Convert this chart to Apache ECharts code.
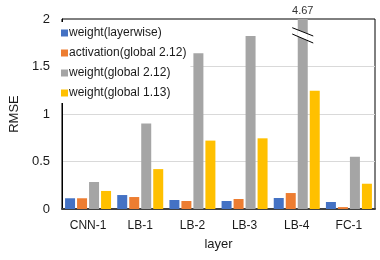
<!DOCTYPE html>
<html>
<head>
<meta charset="utf-8">
<script src="https://cdn.jsdelivr.net/npm/echarts@6/dist/echarts.min.js"></script>
<style>html,body{margin:0;padding:0;background:#fff;}#c{width:380px;height:260px;}</style>
</head>
<body>
<div id="c"></div>
<script>
const categories = ['CNN-1', 'LB-1', 'LB-2', 'LB-3', 'LB-4', 'FC-1'];
const weightLayerwise = [0.113, 0.147, 0.095, 0.084, 0.116, 0.074];
const activationGlobal212 = [0.113, 0.126, 0.084, 0.105, 0.168, 0.02];
const weightGlobal212 = [0.284, 0.90, 1.64, 1.82, 4.67, 0.55];
const weightGlobal113 = [0.19, 0.42, 0.72, 0.744, 1.245, 0.266];
const seriesNames = ['weight(layerwise)', 'activation(global 2.12)', 'weight(global 2.12)', 'weight(global 1.13)'];
const yTicks = [0, 0.5, 1, 1.5, 2];
const yMax = yTicks[yTicks.length - 1];

const colors = ['#4472C4', '#ED7D31', '#A5A5A5', '#FFC000'];
const FONT = 'Liberation Sans, Arial, sans-serif';
const TXT = '#1a1a1a';

const chart = echarts.init(document.getElementById('c'), null, {renderer: 'canvas'});
const allData = [weightLayerwise, activationGlobal212, weightGlobal212, weightGlobal113];

const series = allData.map((arr, i) => ({
  name: seriesNames[i],
  type: 'bar',
  barWidth: 10,
  barGap: '20%',
  clip: true,
  itemStyle: {color: colors[i]},
  data: arr.map(v => v > yMax ? {
    value: v,
    label: {show: true, position: 'top', distance: 3, formatter: String(v), fontSize: 11, color: '#333', fontFamily: FONT}
  } : v)
}));

chart.setOption({
  animation: false,
  textStyle: {fontFamily: FONT},
  grid: {left: 57, right: 5, top: 19, bottom: 51, show: true, borderColor: '#000', borderWidth: 1, backgroundColor: 'transparent'},
  legend: {
    orient: 'vertical', left: 57, top: 22,
    padding: [5, 4, 4, 4],
    itemWidth: 7, itemHeight: 7, itemGap: 8,
    icon: 'rect',
    backgroundColor: '#fff',
    textStyle: {fontSize: 12, color: TXT, fontFamily: FONT, padding: [0, 0, 0, -4]},
    data: seriesNames
  },
  xAxis: {
    type: 'category', data: categories,
    name: 'layer', nameLocation: 'middle', nameGap: 29,
    nameTextStyle: {fontSize: 13, color: TXT, fontFamily: FONT},
    axisTick: {show: false},
    axisLine: {lineStyle: {color: '#404040', width: 2}},
    axisLabel: {fontSize: 12, color: TXT, margin: 11, fontFamily: FONT}
  },
  yAxis: {
    type: 'value', min: yTicks[0], max: yMax, interval: yTicks[1] - yTicks[0],
    name: 'RMSE', nameLocation: 'middle', nameGap: 27,
    nameTextStyle: {fontSize: 13, color: TXT, fontFamily: FONT},
    axisLine: {show: true, lineStyle: {color: '#000', width: 1}},
    axisTick: {show: false},
    axisLabel: {fontSize: 13, color: TXT, margin: 12, fontFamily: FONT},
    splitLine: {show: true, showMaxLine: false, showMinLine: false, lineStyle: {color: '#d9d9d9', width: 1}}
  },
  series: series
});

// break marks on bars that exceed the axis maximum
const graphics = [];
const topY = chart.convertToPixel({yAxisIndex: 0}, yMax);
allData.forEach((arr, si) => {
  arr.forEach((v, di) => {
    if (v <= yMax) return;
    const lay = chart.getModel().getSeriesByIndex(si).getData().getItemLayout(di);
    const x0 = lay.x, w = lay.width;
    const ext = 5.5;
    const xa = x0 - ext, xb = x0 + w + ext;
    const l1a = topY + 8.7, l1b = topY + 17;
    const l2a = topY + 15, l2b = topY + 24;
    const yAt = (ya, yb, x) => ya + (yb - ya) * (x - xa) / (xb - xa);
    graphics.push({
      type: 'polygon', z: 100,
      shape: {points: [[x0, yAt(l1a, l1b, x0)], [x0 + w, yAt(l1a, l1b, x0 + w)], [x0 + w, yAt(l2a, l2b, x0 + w)], [x0, yAt(l2a, l2b, x0)]]},
      style: {fill: '#fff'}
    });
    graphics.push({type: 'line', z: 101, shape: {x1: xa, y1: l1a, x2: xb, y2: l1b}, style: {stroke: '#000', lineWidth: 1}});
    graphics.push({type: 'line', z: 101, shape: {x1: xa, y1: l2a, x2: xb, y2: l2b}, style: {stroke: '#000', lineWidth: 1}});
  });
});
chart.setOption({graphic: graphics});
</script>
</body>
</html>
